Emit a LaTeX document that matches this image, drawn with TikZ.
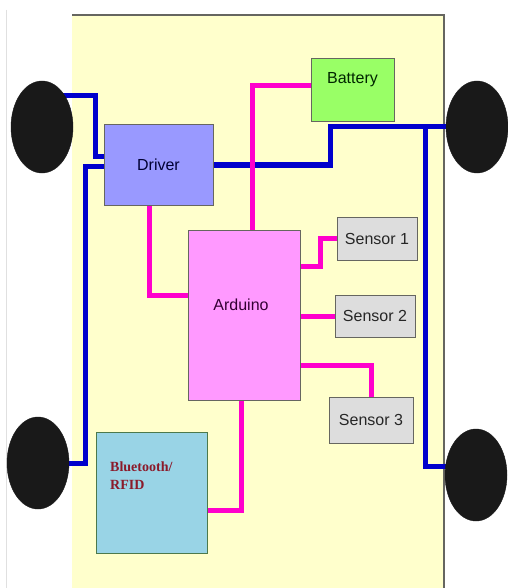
\documentclass[tikz,border=0pt]{standalone}
\usepackage{fontspec}
\setmainfont{Liberation Sans}
\newfontfamily\serifbt{Liberation Serif}
\usetikzlibrary{shapes.geometric,calc}
\pgfdeclarelayer{bg}
\pgfdeclarelayer{wire}
\pgfsetlayers{bg,wire,main}
\definecolor{panel}{HTML}{FFFFCC}
\definecolor{edge}{HTML}{666660}
\definecolor{bluew}{HTML}{0000CC}
\definecolor{pinkw}{HTML}{FF00CC}
\definecolor{drvfill}{HTML}{9999FF}
\definecolor{batfill}{HTML}{99FF66}
\definecolor{ardfill}{HTML}{FF99FF}
\definecolor{senfill}{HTML}{DDDDDD}
\definecolor{btfill}{HTML}{99D4E6}
\definecolor{btred}{HTML}{8B1A2A}
\begin{document}
\begin{tikzpicture}[x=1pt,y=-1pt,
  box/.style={draw=edge,line width=1pt,rectangle,inner sep=0pt,
    font=\fontsize{16}{18}\selectfont,text=black!85},
  wheel/.style={ellipse,fill=black!90,draw=black!90,inner sep=0pt,
    minimum width=62pt,minimum height=92pt},
  bw/.style={draw=bluew,line width=5pt},
  pw/.style={draw=pinkw,line width=5pt}]
\useasboundingbox (0,0) rectangle (507,588);
\begin{pgfonlayer}{bg}
  \fill[white] (0,0) rectangle (507,588);
  \draw[black!12,line width=1pt] (6,10) -- (6,588);
  \fill[panel] (72,15) rectangle (444,588);
  \draw[edge,line width=1.2pt] (72,15) -- (444,15) -- (444,588);
\end{pgfonlayer}

% wheels
\node[wheel] (w1) at (42,127) {};
\node[wheel] (w2) at (477,127) {};
\node[wheel] (w3) at (38,463) {};
\node[wheel] (w4) at (476,475) {};

% boxes
\node[box,fill=drvfill,minimum width=109pt,minimum height=80pt,text=blue!20!black] (drv) at (158.5,165) {Driver};
\node[box,fill=batfill,minimum width=83pt,minimum height=63pt,
  label={[anchor=center,font=\fontsize{16}{18}\selectfont,text=green!15!black]north:{}}] (bat) at (352.5,90.5) {};
\node[font=\fontsize{16}{18}\selectfont,text=green!15!black] (battxt) at (352.5,80) {Battery};
\node[box,fill=ardfill,minimum width=112pt,minimum height=170pt] (ard) at (244,315) {};
\node[font=\fontsize{16}{18}\selectfont,text=violet!40!black] (ardtxt) at (241,305) {Arduino};
\node[box,fill=senfill,minimum width=80pt,minimum height=43pt] (s1) at (377,238.5) {Sensor 1};
\node[box,fill=senfill,minimum width=80pt,minimum height=42pt] (s2) at (375,316) {Sensor 2};
\node[box,fill=senfill,minimum width=84pt,minimum height=46pt] (s3) at (371,420) {Sensor 3};
\node[box,fill=btfill,draw=green!25!black!70,minimum width=111pt,minimum height=121pt] (bt) at (151.5,492.5) {};
\node[anchor=north west,inner sep=0pt,align=left,text=btred,
  font=\serifbt\bfseries\fontsize{14}{18}\selectfont] (bttxt) at (110,462) {Bluetooth/\\RFID};

\begin{pgfonlayer}{wire}
  % blue wires
  \draw[bw] ($(w1)+(0,-31)$) -| ($(drv.west)+(-8,-8)$) -- ($(drv.west)+(0,-8)$);
  \draw[bw] ($(drv.west)+(0,1)$) -- ++(-18,0) |- (w3);
  \draw[bw] (drv.east) -| ($(drv.east)+(117,-38)$) -- (w2);
  \coordinate (jn) at ($(w2)+(-52,0)$);
  \draw[bw] (jn) |- ($(w4)+(0,-9)$);
  % pink wires
  \draw[pw] ($(bat.west)+(0,-4.5)$) -| ($(ard.north)+(8,0)$);
  \draw[pw] ($(drv.south)+(-9.5,0)$) |- ($(ard.west)+(0,-20)$);
  \draw[pw] ($(ard.east)+(0,-49)$) -- ++(20,0) |- (s1.west);
  \draw[pw] (ard.east |- s2.west) -- (s2.west);
  \draw[pw] ($(ard.east)+(0,50)$) -| (s3.north);
  \draw[pw] ($(ard.south)+(-3,0)$) |- ($(bt.east)+(0,17.5)$);
\end{pgfonlayer}
\end{tikzpicture}
\end{document}
